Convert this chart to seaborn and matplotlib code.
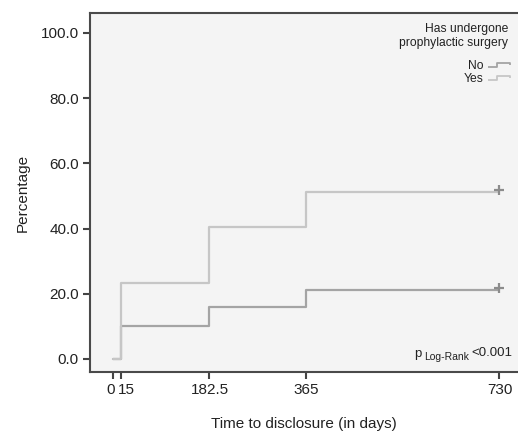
import numpy as np
import pandas as pd
import matplotlib
matplotlib.use("Agg")
import matplotlib.pyplot as plt
import matplotlib.transforms as mtransforms
from matplotlib.path import Path
from matplotlib.lines import Line2D
import seaborn as sns

# ---- data ----
days_no = [0, 15, 182.5, 365, 730]
pct_no = [0.0, 10.1, 16.0, 21.2, 21.2]
days_yes = [0, 15, 182.5, 365, 730]
pct_yes = [0.0, 23.3, 40.5, 51.2, 51.2]
groups = ["No", "Yes"]
x_ticks = [0, 15, 182.5, 365, 730]
x_tick_labels = ["0", "15", "182.5", "365", "730"]
y_ticks = [0, 20, 40, 60, 80, 100]

sns.set_theme(style="white")
plt.rcParams["font.family"] = ["Liberation Sans", "DejaVu Sans"]

df = pd.DataFrame({
    "day": days_no + days_yes,
    "pct": pct_no + pct_yes,
    "group": ["No"] * len(days_no) + ["Yes"] * len(days_yes),
})

colors = {"No": "#a4a4a4", "Yes": "#c6c6c6"}
W, H = 518, 438

fig = plt.figure(figsize=(W / 100, H / 100), dpi=100)
ax = fig.add_axes([90 / W, 1 - 372 / H, 428 / W, (372 - 13) / H])
ax.set_facecolor("#f4f4f4")

sns.lineplot(data=df, x="day", y="pct", hue="group", palette=colors,
             drawstyle="steps-post", estimator=None, legend=False,
             linewidth=1.6, ax=ax)

# censor marks at the end
for g, d, p in [("No", days_no, pct_no), ("Yes", days_yes, pct_yes)]:
    ax.plot(d[-1], p[-1] + 0.6, marker="+", markersize=7, mew=1.6,
            color="#8c8c8c", linestyle="None")

# 0 -> y 359, 100 -> y 33  (3.26 px per unit)
ax.set_xlim(-43, 765)
ax.set_ylim(-(372 - 359) / 3.26, 100 + (33 - 13) / 3.26)
ax.set_yticks(y_ticks)
ax.set_yticklabels([f"{v:.1f}" for v in y_ticks])
ax.set_xticks(x_ticks)
ax.set_xticklabels(x_tick_labels)

ax.tick_params(axis="both", which="both", direction="out", length=5, width=1.5,
               color="#444444", labelsize=11, labelcolor="#222222",
               bottom=True, left=True)
ax.tick_params(axis="x", pad=3)
ax.tick_params(axis="y", pad=3)

# nudge the crowded "0" / "15" labels apart
tl = ax.get_xticklabels()
tl[0].set_transform(tl[0].get_transform() +
                    mtransforms.ScaledTranslation(-2 / 100, 0, fig.dpi_scale_trans))
tl[1].set_transform(tl[1].get_transform() +
                    mtransforms.ScaledTranslation(6 / 100, 0, fig.dpi_scale_trans))

ax.set_xlabel("Time to disclosure (in days)", fontsize=11, color="#222222", labelpad=14)
ax.set_ylabel("Percentage", fontsize=11, color="#222222", labelpad=8)

for s in ["left", "top", "bottom"]:
    ax.spines[s].set_visible(True)
    ax.spines[s].set_color("#4a4a4a")
    ax.spines[s].set_linewidth(1.5)
ax.spines["right"].set_visible(False)

# legend title
fig.text(508 / W, 1 - 23 / H, "Has undergone\nprophylactic surgery",
         ha="right", va="top", fontsize=8.7, color="#222222",
         multialignment="right", linespacing=1.25)

# legend entries with step icons
step = Path([(-1, -0.2), (-0.15, -0.2), (-0.15, 0.2), (1, 0.2), (1, 0.0)],
            [Path.MOVETO, Path.LINETO, Path.LINETO, Path.LINETO, Path.LINETO])
handles = [Line2D([], [], linestyle="None", marker=step, markersize=16,
                  markerfacecolor="none", markeredgecolor=colors[g], mew=1.3)
           for g in groups]
leg = ax.legend(handles, groups, loc="upper right",
                bbox_to_anchor=(510 / W, 1 - 60 / H), bbox_transform=fig.transFigure,
                frameon=False, markerfirst=False, fontsize=8.7,
                handlelength=1.9, handletextpad=0.3, labelspacing=0.1,
                borderaxespad=0, borderpad=0)
for t in leg.get_texts():
    t.set_color("#222222")

# p-value annotation
fig.text(418 / W, 1 - 357 / H, "p", fontsize=9.5,
         ha="center", va="baseline", color="#222222")
fig.text(424 / W, 1 - 360 / H, "Log-Rank", fontsize=7.5,
         ha="left", va="baseline", color="#222222")
fig.text(512 / W, 1 - 356 / H, "<0.001", fontsize=9.5,
         ha="right", va="baseline", color="#222222")

fig.savefig("out.png", dpi=100)
